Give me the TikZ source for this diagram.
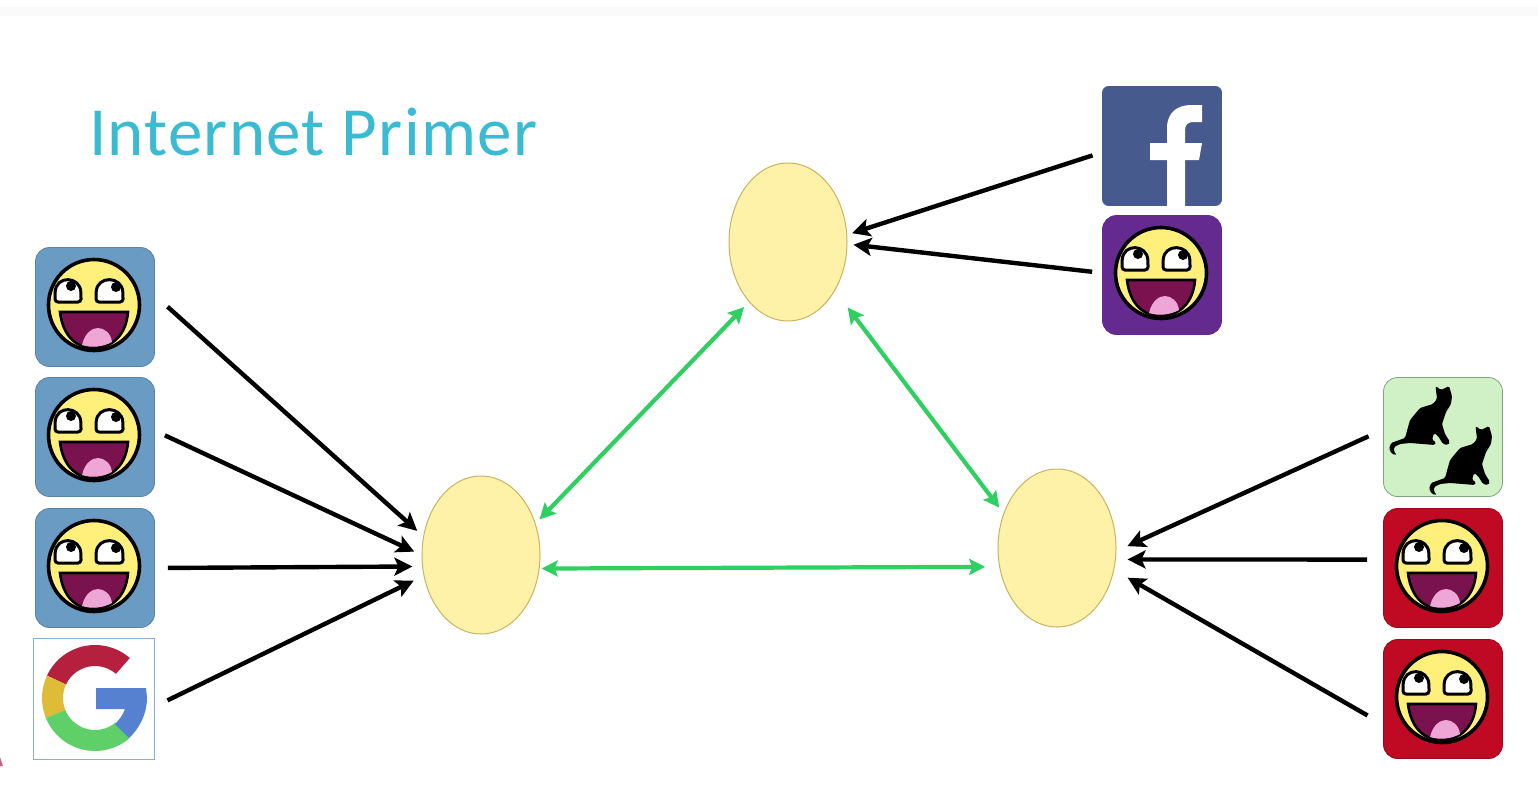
\documentclass[tikz,border=0pt]{standalone}
\usepackage{fontspec}
\setmainfont{Carlito}
\usetikzlibrary{arrows.meta, shapes.geometric}
\definecolor{titleblue}{HTML}{3ABBD2}
\definecolor{bluetile}{HTML}{6A9BC3}
\definecolor{fbblue}{HTML}{475A8E}
\definecolor{purpletile}{HTML}{652A8F}
\definecolor{greentile}{HTML}{D0F1C6}
\definecolor{redtile}{HTML}{C00A24}
\definecolor{routeryellow}{HTML}{FEF1A8}
\definecolor{routerline}{HTML}{C9B461}
\definecolor{peergreen}{HTML}{2FCF62}
\definecolor{faceyellow}{HTML}{FFF07C}
\definecolor{mouthpurple}{HTML}{7A1250}
\definecolor{tonguepink}{HTML}{EDA6D5}
\definecolor{gred}{HTML}{B5203F}
\definecolor{gyellow}{HTML}{DFBC38}
\definecolor{ggreen}{HTML}{5FD068}
\definecolor{gblue}{HTML}{5680D0}
\newcommand{\gsector}[3]{\fill[#1] (-#2:53) arc[start angle=-#2, end angle=-#3, radius=53] -- (-#3:32) arc[start angle=-#3, end angle=-#2, radius=32] -- cycle;}
\tikzset{
	tile/.style={draw, rectangle, rounded corners=14pt, minimum size=119pt, inner sep=0pt, line width=.8pt},
	router/.style={draw=routerline, ellipse, fill=routeryellow, minimum width=118pt, minimum height=158pt, inner sep=0pt, line width=1pt},
	access/.style={black, line width=4.4pt, -{Stealth[length=18pt, width=18pt, inset=4pt]}},
	peering/.style={peergreen, line width=4.2pt, {Stealth[length=16pt, width=16pt, inset=3pt]}-{Stealth[length=16pt, width=16pt, inset=3pt]}},
	smiley/.pic={
		\draw[black, line width=3.6pt, fill=faceyellow] (-1,-2) circle[radius=45.5];
		% eyes
		\draw[black, line width=3pt, fill=white, rounded corners=3pt] (-40,-5) -- (-14,-5) -- (-14,-12) .. controls (-15,-31) and (-39,-32) .. (-40,-12) -- cycle;
		\draw[black, line width=3pt, fill=white, rounded corners=3pt] (1,-5) -- (28,-5) -- (28,-12) .. controls (27,-31) and (2,-32) .. (1,-12) -- cycle;
		\fill (-24,-21) circle[radius=5];
		\fill (21,-20) circle[radius=5];
		% mouth
		\draw[black, line width=2.6pt, fill=mouthpurple] (-35,5) -- (33,5) .. controls (31,30) and (15,41) .. (-1,41) .. controls (-18,41) and (-32,30) .. (-35,5) -- cycle;
		\fill[tonguepink] (-13,38) .. controls (-10,25) and (-2,21) .. (3,21) .. controls (9,21) and (16,26) .. (17,35) .. controls (8,40) and (-4,41) .. (-13,38) -- cycle;
	},
	catshape/.pic={
		\fill[black, rounded corners=1.5pt] (-7.5,-51) -- (-2,-47) -- (6,-51) -- (9,-41) -- (8,-33) -- (3,-25) -- (-1,-13) -- (2,-3) -- (7,5) -- (5,8) -- (0,7) -- (-5,-1) -- (-9,-4) -- (-11,3) -- (-7,5) -- (-8,8) -- (-33,6) -- (-43,7) -- (-49,10) -- (-49,15) -- (-46,18) -- (-51,17) -- (-54,12) -- (-52,6) -- (-38,1) -- (-33,-17) -- (-23,-29) -- (-10,-33) -- (-6,-38) -- cycle;
	}
}
\begin{document}
\begin{tikzpicture}[x=1pt, y=-1pt]
	\path[use as bounding box, fill=white] (0,0) rectangle (1538,808);
	\fill[black!2] (0,7) rectangle (1538,16);
	\fill[gred!70!white] (0,757) -- (3,766) -- (0,766) -- cycle;
	\node[anchor=base west, inner sep=0pt, text=titleblue, font=\fontsize{69}{69}\selectfont\addfontfeatures{LetterSpace=1.8}] (title) at (89,155) {Internet Primer};

	\node[router] (west) at (481,555) {};
	\node[router] (north) at (788,242) {};
	\node[router] (east) at (1057,548) {};

	\node[tile, draw=bluetile!85!black, fill=bluetile] (U1) at (95,307) {};
	\node[tile, draw=bluetile!85!black, fill=bluetile] (U2) at (95,437) {};
	\node[tile, draw=bluetile!85!black, fill=bluetile] (U3) at (95,568) {};
	\node[tile, rounded corners=0pt, draw=bluetile!80, fill=white, minimum size=121pt] (G) at (94,699) {};
	\node[tile, rounded corners=6pt, draw=fbblue, fill=fbblue] (FB) at (1162,146) {};
	\node[tile, draw=purpletile, fill=purpletile] (V1) at (1162,275) {};
	\node[tile, draw=green!30!black!50, fill=greentile] (C) at (1443,437) {};
	\node[tile, draw=redtile!80!black, fill=redtile] (R1) at (1443,568) {};
	\node[tile, draw=redtile!80!black, fill=redtile] (R2) at (1443,699) {};

	\foreach \who in {U1, U2, U3, V1, R1, R2} {
		\pic at (\who) {smiley};
	}
	\pic at (C) {catshape};
	\pic at ([shift={(40,40)}]C) {catshape};

	% G logo
	\begin{scope}[shift={(95,698)}]
		\gsector{gred}{49}{155}
		\gsector{gyellow}{155}{202}
		\gsector{ggreen}{202}{310}
		\fill[gblue] (1,-10) -- (51,-10) -- (52,0) .. controls (52,16) and (44,31) .. (34,40) -- (20,26) .. controls (24,22) and (28,17) .. (30,11) -- (1,11) -- cycle;
	\end{scope}

	% f logo
	\fill[white] (1167,206) -- (1167,160) -- (1150,160) -- (1150,143) -- (1167,143) -- (1167,128) .. controls (1167,112) and (1178,105) .. (1191,105) -- (1202,105) -- (1202,122) -- (1194,122) .. controls (1187,122) and (1185,125) .. (1185,131) -- (1185,143) -- (1202,143) -- (1199,160) -- (1185,160) -- (1185,206) -- cycle;

	% access links
	\draw[access, shorten <=17pt, shorten >=8pt] (U1.11) -- (west.162);
	\draw[access, shorten <=11pt, shorten >=8pt] (U2.6) -- (west.180);
	\draw[access, shorten <=13pt, shorten >=9.7pt] (U3.0) -- (west.191);
	\draw[access, shorten <=14pt, shorten >=11pt] (G.-7) -- (west.200);
	\draw[access, shorten <=10pt, shorten >=5pt] (FB.186) -- (north.7);
	\draw[access, shorten <=10pt, shorten >=6pt] (V1.178) -- (north.-2);
	\draw[access, shorten <=16pt, shorten >=12pt] (C.173) -- (east.-3);
	\draw[access, shorten <=16pt, shorten >=11.6pt] (R1.172) -- (east.-11);
	\draw[access, shorten <=18pt, shorten >=15.5pt] (R2.203) -- (east.-21);

	% peering links
	\draw[peering, shorten <=5.6pt, shorten >=7pt] (west.30) -- (north.237);
	\draw[peering, shorten <=21pt, shorten >=7pt] (north.-46) -- (east.147);
	\draw[peering, shorten <=2pt, shorten >=14pt] (west.-13) -- (east.198);
\end{tikzpicture}
\end{document}
